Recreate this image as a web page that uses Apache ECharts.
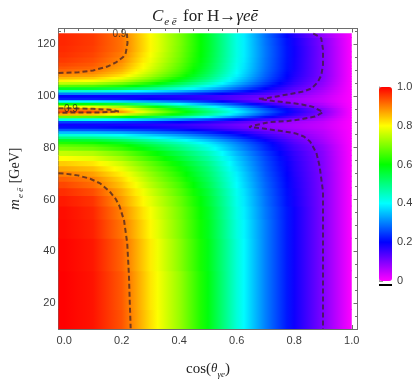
<!DOCTYPE html>
<html>
<head>
<meta charset="utf-8">
<script src="https://cdn.jsdelivr.net/npm/echarts@6/dist/echarts.min.js"></script>
<style>html,body{margin:0;padding:0;background:#fff}#chart{width:420px;height:384px}</style>
</head>
<body>
<div id="chart"></div>
<script>
var xNodes = [0, 0.1, 0.2, 0.3, 0.4, 0.5, 0.6, 0.7, 0.8, 0.9, 1.0];
// m_ee rows (GeV)
var massRows = [10, 25, 40, 50, 55, 60, 63, 66, 68, 70, 72, 74, 76, 78, 80, 81, 82, 83, 84, 85, 86, 87, 88, 89,
    90, 91, 92, 93, 94, 95, 96, 97, 98, 99, 100, 101, 102, 103, 104, 105, 106, 107, 108, 109, 110, 111, 112,
    114, 116, 118, 121, 124];
// C_ee value per row, one entry per x node
var cRows = [
    [1.0, 0.985, 0.935, 0.825, 0.72, 0.59, 0.43, 0.30, 0.19, 0.10, 0.0],
    [1.0, 0.985, 0.93, 0.82, 0.72, 0.59, 0.43, 0.30, 0.19, 0.10, 0.0],
    [0.998, 0.982, 0.922, 0.815, 0.71, 0.585, 0.43, 0.30, 0.19, 0.10, 0.0],
    [0.993, 0.975, 0.908, 0.805, 0.70, 0.58, 0.425, 0.30, 0.19, 0.10, 0.0],
    [0.99, 0.97, 0.897, 0.795, 0.695, 0.575, 0.42, 0.295, 0.19, 0.10, 0.0],
    [0.98, 0.96, 0.88, 0.78, 0.685, 0.565, 0.415, 0.29, 0.185, 0.10, 0.0],
    [0.965, 0.94, 0.865, 0.765, 0.67, 0.555, 0.41, 0.285, 0.183, 0.10, 0.0],
    [0.945, 0.915, 0.845, 0.745, 0.655, 0.54, 0.40, 0.28, 0.18, 0.10, 0.0],
    [0.925, 0.90, 0.83, 0.73, 0.64, 0.53, 0.395, 0.275, 0.178, 0.10, 0.0],
    [0.90, 0.875, 0.81, 0.715, 0.625, 0.52, 0.39, 0.27, 0.175, 0.10, 0.0],
    [0.87, 0.85, 0.785, 0.695, 0.61, 0.51, 0.38, 0.265, 0.172, 0.098, 0.0],
    [0.84, 0.82, 0.76, 0.675, 0.59, 0.495, 0.37, 0.26, 0.17, 0.097, 0.0],
    [0.80, 0.78, 0.725, 0.645, 0.565, 0.475, 0.36, 0.255, 0.165, 0.096, 0.0],
    [0.755, 0.74, 0.69, 0.615, 0.54, 0.455, 0.345, 0.245, 0.16, 0.093, 0.0],
    [0.70, 0.685, 0.64, 0.575, 0.505, 0.425, 0.325, 0.23, 0.15, 0.088, 0.0],
    [0.67, 0.655, 0.615, 0.55, 0.485, 0.41, 0.315, 0.225, 0.145, 0.085, 0.0],
    [0.625, 0.61, 0.575, 0.515, 0.455, 0.385, 0.30, 0.215, 0.135, 0.075, 0.0],
    [0.57, 0.56, 0.525, 0.47, 0.415, 0.35, 0.275, 0.195, 0.125, 0.07, 0.0],
    [0.50, 0.49, 0.46, 0.415, 0.365, 0.31, 0.245, 0.175, 0.112, 0.065, 0.0],
    [0.43, 0.42, 0.40, 0.36, 0.32, 0.27, 0.215, 0.155, 0.103, 0.06, 0.0],
    [0.35, 0.345, 0.33, 0.30, 0.27, 0.23, 0.185, 0.133, 0.09, 0.055, 0.0],
    [0.27, 0.265, 0.255, 0.24, 0.215, 0.185, 0.15, 0.11, 0.078, 0.05, 0.0],
    [0.21, 0.208, 0.2, 0.19, 0.175, 0.152, 0.122, 0.092, 0.068, 0.045, 0.0],
    [0.19, 0.188, 0.182, 0.173, 0.16, 0.14, 0.113, 0.088, 0.066, 0.044, 0.0],
    [0.25, 0.247, 0.237, 0.222, 0.2, 0.172, 0.138, 0.103, 0.075, 0.048, 0.0],
    [0.42, 0.41, 0.385, 0.35, 0.305, 0.255, 0.198, 0.145, 0.1, 0.06, 0.0],
    [0.68, 0.665, 0.615, 0.55, 0.475, 0.395, 0.30, 0.21, 0.138, 0.078, 0.0],
    [0.86, 0.845, 0.78, 0.68, 0.585, 0.48, 0.365, 0.255, 0.165, 0.093, 0.0],
    [0.94, 0.93, 0.875, 0.745, 0.625, 0.51, 0.395, 0.28, 0.18, 0.10, 0.0],
    [0.90, 0.885, 0.825, 0.70, 0.59, 0.48, 0.37, 0.26, 0.17, 0.094, 0.0],
    [0.80, 0.785, 0.725, 0.62, 0.52, 0.42, 0.32, 0.22, 0.13, 0.075, 0.0],
    [0.60, 0.59, 0.55, 0.475, 0.40, 0.325, 0.25, 0.17, 0.10, 0.06, 0.0],
    [0.40, 0.395, 0.37, 0.33, 0.285, 0.23, 0.17, 0.11, 0.08, 0.048, 0.0],
    [0.22, 0.218, 0.212, 0.2, 0.185, 0.163, 0.132, 0.098, 0.075, 0.046, 0.0],
    [0.20, 0.198, 0.193, 0.186, 0.175, 0.158, 0.135, 0.112, 0.088, 0.05, 0.0],
    [0.30, 0.297, 0.288, 0.272, 0.25, 0.218, 0.18, 0.14, 0.103, 0.058, 0.0],
    [0.44, 0.435, 0.415, 0.385, 0.345, 0.29, 0.232, 0.172, 0.117, 0.066, 0.0],
    [0.57, 0.562, 0.535, 0.49, 0.43, 0.36, 0.28, 0.2, 0.132, 0.074, 0.0],
    [0.67, 0.66, 0.625, 0.565, 0.49, 0.41, 0.315, 0.225, 0.145, 0.082, 0.0],
    [0.75, 0.738, 0.695, 0.625, 0.54, 0.45, 0.345, 0.245, 0.157, 0.088, 0.0],
    [0.81, 0.797, 0.75, 0.67, 0.58, 0.48, 0.365, 0.258, 0.165, 0.093, 0.0],
    [0.855, 0.842, 0.79, 0.705, 0.61, 0.505, 0.38, 0.268, 0.172, 0.097, 0.0],
    [0.885, 0.872, 0.82, 0.73, 0.635, 0.52, 0.392, 0.275, 0.177, 0.1, 0.0],
    [0.905, 0.893, 0.842, 0.748, 0.65, 0.533, 0.40, 0.28, 0.18, 0.1, 0.0],
    [0.92, 0.908, 0.858, 0.762, 0.662, 0.542, 0.405, 0.285, 0.183, 0.1, 0.0],
    [0.933, 0.92, 0.87, 0.772, 0.67, 0.55, 0.41, 0.288, 0.185, 0.1, 0.0],
    [0.945, 0.93, 0.88, 0.78, 0.678, 0.556, 0.413, 0.29, 0.186, 0.1, 0.0],
    [0.955, 0.94, 0.893, 0.79, 0.687, 0.563, 0.417, 0.292, 0.187, 0.1, 0.0],
    [0.962, 0.947, 0.902, 0.797, 0.693, 0.567, 0.42, 0.294, 0.188, 0.1, 0.0],
    [0.967, 0.952, 0.91, 0.805, 0.697, 0.57, 0.42, 0.294, 0.188, 0.1, 0.0],
    [0.97, 0.955, 0.91, 0.805, 0.70, 0.57, 0.42, 0.292, 0.185, 0.098, 0.0],
    [0.97, 0.955, 0.908, 0.803, 0.698, 0.568, 0.418, 0.288, 0.175, 0.085, 0.0]
];

// contour lines, [cos, m]
var contour09Low = [[-0.02, 70.1], [0.0, 70.0], [0.047, 69.3], [0.09, 68.0], [0.125, 66.2], [0.158, 63.1],
    [0.18, 60.0], [0.192, 57.5], [0.208, 51.9], [0.219, 43.2], [0.225, 30.7], [0.228, 20.0], [0.231, 10.3]];
var contour09High = [[-0.02, 108.8], [0.05, 109.1], [0.10, 109.8], [0.15, 111.3], [0.18, 112.9], [0.205, 115.0],
    [0.214, 116.6], [0.22, 120.4], [0.218, 124.0]];
var contour09Mid = [[-0.02, 95.2], [0.05, 95.15], [0.10, 95.0], [0.16, 94.6], [0.19, 94.0], [0.12, 93.6],
    [0.05, 93.55], [-0.02, 93.5]];
var contour01 = [[0.866, 124.0], [0.885, 123.0], [0.894, 122.2], [0.9, 117.9], [0.9, 112.0], [0.894, 107.9],
    [0.881, 105.2], [0.861, 102.9], [0.833, 101.7], [0.805, 101.1], [0.76, 100.2], [0.705, 99.1], [0.677, 98.9],
    [0.682, 98.3], [0.727, 98.0], [0.783, 97.3], [0.827, 96.7], [0.866, 95.7], [0.9, 93.7], [0.872, 92.0],
    [0.821, 90.9], [0.771, 90.2], [0.716, 89.9], [0.66, 88.6], [0.643, 88.0], [0.693, 87.4], [0.749, 86.5],
    [0.805, 85.5], [0.833, 84.3], [0.855, 82.4], [0.877, 78.0], [0.888, 73.0], [0.9, 63.0], [0.9, 10.0]];
var contourLabels = [[0.192, 123.9], [0.023, 94.8]];

var xFrom = -0.02, xTo = 1.0, mFrom = 10, mTo = 124;
var rainbow = ['#ff00ff', '#0000ff', '#00ffff', '#00ff00', '#ffff00', '#ff0000'];

function hexRgb(h) {
    return [parseInt(h.substr(1, 2), 16), parseInt(h.substr(3, 2), 16), parseInt(h.substr(5, 2), 16)];
}
// same scale as the colour bar: 0 magenta ... 1 red
function cmap(v) {
    v = Math.max(0, Math.min(1, v));
    var p = v * (rainbow.length - 1);
    var i = Math.min(rainbow.length - 2, Math.floor(p));
    var t = p - i;
    var a = hexRgb(rainbow[i]), b = hexRgb(rainbow[i + 1]);
    return 'rgb(' + Math.round(a[0] + (b[0] - a[0]) * t) + ',' + Math.round(a[1] + (b[1] - a[1]) * t) + ',' +
        Math.round(a[2] + (b[2] - a[2]) * t) + ')';
}

function renderRow(params, api) {
    var i = api.value(0);
    var row = cRows[i];
    var last = massRows.length - 1;
    var lowM = i === 0 ? mFrom : (massRows[i - 1] + massRows[i]) / 2;
    var highM = i === last ? mTo : (massRows[i] + massRows[i + 1]) / 2;
    var p0 = api.coord([xFrom, lowM]);
    var p1 = api.coord([xTo, highM]);
    var w = p1[0] - p0[0];
    var stops = [];
    for (var j = 0; j < xNodes.length; j++) {
        var px = api.coord([xNodes[j], lowM])[0];
        stops.push({offset: (px - p0[0]) / w, color: cmap(row[j])});
        if (j < xNodes.length - 1) {
            var qx = api.coord([xNodes[j + 1], lowM])[0];
            for (var k = 1; k < 4; k++) {
                var t = k / 4;
                stops.push({offset: (px + (qx - px) * t - p0[0]) / w, color: cmap(row[j] + (row[j + 1] - row[j]) * t)});
            }
        }
    }
    return {
        type: 'rect',
        shape: {x: p0[0], y: p1[1] - 0.5, width: w, height: p0[1] - p1[1] + 1},
        style: {fill: new echarts.graphic.LinearGradient(0, 0, 1, 0, stops)}
    };
}

var frameColor = '#6e6e6e';
var labelColor = '#3c3c3c';
var serif = '"Liberation Serif", "DejaVu Serif", serif';
var sans = '"Liberation Sans", Arial, sans-serif';

function frameAxis(extra) {
    var base = {
        type: 'value',
        gridIndex: 0,
        splitNumber: 5,
        splitLine: {show: false},
        axisLine: {show: true, onZero: false, lineStyle: {color: frameColor, width: 1}},
        axisTick: {show: true, inside: true, length: 4, lineStyle: {color: frameColor}},
        minorTick: {show: true, splitNumber: 4, length: 2.5, lineStyle: {color: frameColor}},
        axisLabel: {show: false}
    };
    return Object.assign(base, extra);
}

var dashStyle = {type: [5, 3], width: 2, color: 'rgba(60,30,40,0.72)'};
function contourSeries(pts) {
    return {
        type: 'line', xAxisIndex: 0, yAxisIndex: 0, data: pts, showSymbol: false, symbol: 'none',
        lineStyle: dashStyle, silent: true, z: 5
    };
}

function txt(size, italic, extra) {
    return Object.assign({
        fontFamily: serif, fontSize: size, fontStyle: italic ? 'italic' : 'normal', fontWeight: 'normal',
        color: '#222', lineHeight: 22, verticalAlign: 'middle'
    }, extra || {});
}

var chart = echarts.init(document.getElementById('chart'), null, {renderer: 'canvas'});
var option = {
    animation: false,
    title: {
        text: '{c|C}{s|e ē}{t| for H→}{i|γeē}',
        left: 200, top: 1, textAlign: 'center',
        textStyle: {
            fontWeight: 'normal',
            rich: {
                c: txt(17, true),
                s: txt(11, true, {lineHeight: 11, verticalAlign: 'bottom', padding: [0, 2, 0, 1]}),
                t: txt(17, false),
                i: txt(17, true)
            }
        }
    },
    grid: [
        {left: 46.5, top: 28.5, right: 62.5, bottom: 46.5, show: false},
        {left: 379, top: 87, width: 13, height: 194, show: false}
    ],
    xAxis: [
        frameAxis({
            position: 'bottom', min: -0.02, max: 1.02,
            name: '{a|cos(}{b|θ}{s|γe}{a|)}', nameLocation: 'middle', nameGap: 30,
            nameTextStyle: {
                rich: {
                    a: txt(15, false, {lineHeight: 20}),
                    b: txt(13, true, {lineHeight: 20}),
                    s: txt(9, true, {lineHeight: 9, verticalAlign: 'bottom'})
                }
            },
            axisLabel: {
                show: true, margin: 6, color: labelColor, fontSize: 11, fontFamily: sans,
                formatter: function (v) {
                    var r = Math.round(v * 5);
                    return Math.abs(v * 5 - r) < 1e-6 ? v.toFixed(1) : '';
                }
            }
        }),
        frameAxis({position: 'top', min: -0.02, max: 1.02}),
        {type: 'value', gridIndex: 1, min: 0, max: 1, show: false}
    ],
    yAxis: [
        frameAxis({
            position: 'left', min: 10, max: 126,
            name: '{m|m}{s|e ē}{g| [GeV]}', nameLocation: 'middle', nameGap: 33, nameRotate: 90,
            nameTextStyle: {
                rich: {
                    m: txt(15, true, {lineHeight: 20}),
                    s: txt(9, true, {lineHeight: 9, verticalAlign: 'bottom', padding: [0, 1, 0, 1]}),
                    g: txt(14, false, {lineHeight: 20})
                }
            },
            axisLabel: {
                show: true, margin: 3, color: labelColor, fontSize: 11, fontFamily: sans,
                formatter: function (v) { return v % 20 === 0 ? String(v) : ''; }
            }
        }),
        frameAxis({position: 'right', min: 10, max: 126}),
        {
            type: 'value', gridIndex: 1, position: 'right', min: 0, max: 1, interval: 0.2,
            splitLine: {show: false},
            axisLine: {show: true, lineStyle: {color: '#9a9a9a'}},
            axisTick: {show: true, length: 4, lineStyle: {color: '#9a9a9a'}},
            minorTick: {show: true, splitNumber: 2, length: 4, lineStyle: {color: '#9a9a9a'}},
            axisLabel: {
                margin: 5, color: labelColor, fontSize: 11, fontFamily: sans,
                formatter: function (v) { return v === 0 ? '0' : v.toFixed(1); }
            }
        }
    ],
    visualMap: {
        type: 'continuous', min: 0, max: 1, seriesIndex: 0, dimension: 0,
        show: true, calculable: false, hoverLink: false, orient: 'vertical',
        left: 379, top: 87, itemWidth: 13, itemHeight: 194, padding: 0,
        inRange: {color: rainbow}, text: null
    },
    graphic: [
        {type: 'rect', left: 379, top: 284, shape: {width: 13, height: 2}, style: {fill: '#000'}}
    ],
    series: [
        {
            type: 'custom', xAxisIndex: 0, yAxisIndex: 0, renderItem: renderRow, clip: true, silent: true,
            data: massRows.map(function (m, i) { return [i]; }), z: 1
        },
        contourSeries(contour09Low),
        contourSeries(contour09High),
        contourSeries(contour09Mid),
        contourSeries(contour01),
        {
            type: 'scatter', xAxisIndex: 0, yAxisIndex: 0, data: contourLabels, symbolSize: 0, silent: true, z: 6,
            label: {show: true, position: 'inside', formatter: '0.9', color: '#1e1e1e', fontSize: 10, fontFamily: sans}
        }
    ]
};
chart.setOption(option);
</script>
</body>
</html>
